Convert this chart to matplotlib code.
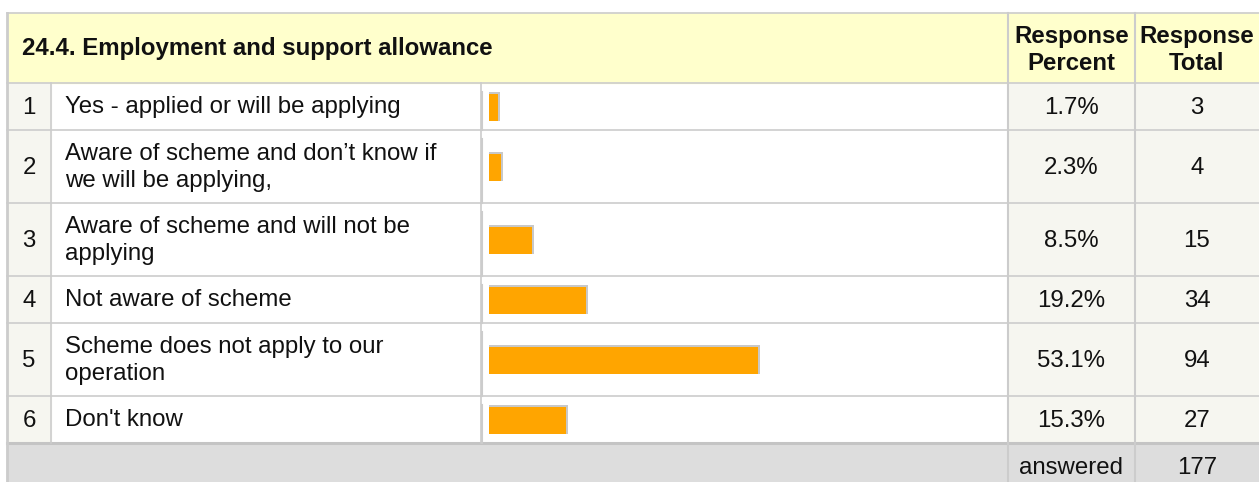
import matplotlib.pyplot as plt
from matplotlib.patches import Rectangle

plt.rcParams['font.family'] = ['Liberation Sans', 'DejaVu Sans']

# survey data
question = "24.4. Employment and support allowance"
row_numbers = [1, 2, 3, 4, 5, 6]
answers = [
    "Yes - applied or will be applying",
    "Aware of scheme and don\u2019t know if\nwe will be applying,",
    "Aware of scheme and will not be\napplying",
    "Not aware of scheme",
    "Scheme does not apply to our\noperation",
    "Don't know",
]
percents = [1.7, 2.3, 8.5, 19.2, 53.1, 15.3]
totals = [3, 4, 15, 34, 94, 27]
answered = 177

W, H = 1259, 482
fig = plt.figure(figsize=(W / 100, H / 100), dpi=100)
ax = fig.add_axes([0, 0, 1, 1])
ax.set_xlim(0, W)
ax.set_ylim(H, 0)
ax.axis('off')

grid = '#cccccc'
txt = '#111111'
fs = 17.3
ls = 1.27

# column edges
x0, x_num, x_text, x_pct, x_tot, x1 = 7, 51, 481, 1008, 1135, 1259
top, head_bot = 13, 83

# row boundaries from line counts
bounds = [head_bot]
for a in answers:
    bounds.append(bounds[-1] + (73 if '\n' in a else 47))
foot_top = bounds[-1]
centers = [(bounds[i] + bounds[i + 1]) / 2 for i in range(len(answers))]

# backgrounds
ax.add_patch(Rectangle((x0, top), x1 - x0, head_bot - top, color='#ffffcc', zorder=0))
ax.add_patch(Rectangle((x0, head_bot), x_num - x0, foot_top - head_bot, color='#f6f6f0', zorder=0))
ax.add_patch(Rectangle((x_pct, head_bot), x1 - x_pct, foot_top - head_bot, color='#f6f6f0', zorder=0))
ax.add_patch(Rectangle((x0, foot_top), x1 - x0, H - foot_top, color='#dddddd', zorder=0))

# grid lines
ax.plot([x0, x1], [top, top], color=grid, lw=1.2)
for b in bounds[:-1]:
    ax.plot([x0, x1], [b, b], color=grid, lw=1.2)
ax.plot([x0, x1], [foot_top, foot_top], color='#c4c4c4', lw=2.2)
ax.plot([x0, x0], [top, H], color=grid, lw=2)
for xv in (x_pct, x_tot):
    ax.plot([xv, xv], [top, H], color=grid, lw=1.5)
for xv in (x_num, x_text):
    ax.plot([xv, xv], [head_bot, foot_top], color=grid, lw=1.2)
for i in range(len(answers)):
    ax.plot([x_text + 1, x_text + 1], [bounds[i] + 9, bounds[i + 1]], color=grid, lw=1.5)

# header
ax.text(22, (top + head_bot) / 2 + 1, question, fontsize=fs, fontweight='bold',
        color=txt, va='center', ha='left')
ax.text((x_pct + x_tot) / 2, (top + head_bot) / 2 + 2, "Response\nPercent", fontsize=fs,
        fontweight='bold', color=txt, va='center', ha='center', linespacing=ls)
ax.text((x_tot + x1) / 2, (top + head_bot) / 2 + 2, "Response\nTotal", fontsize=fs,
        fontweight='bold', color=txt, va='center', ha='center', linespacing=ls)

# body rows
for n, a, p, t, c in zip(row_numbers, answers, percents, totals, centers):
    ax.text((x0 + x_num) / 2, c + 1.5, str(n), fontsize=fs, color=txt, va='center', ha='center')
    ax.text(65, c + 1, a, fontsize=fs, color=txt, va='center', ha='left', linespacing=ls)
    ax.text((x_pct + x_tot) / 2, c + 1.5, f"{p}%", fontsize=fs, color=txt, va='center', ha='center')
    ax.text((x_tot + x1) / 2, c + 1.5, str(t), fontsize=fs, color=txt, va='center', ha='center')

# footer
ax.text((x_pct + x_tot) / 2, foot_top + 25, "answered", fontsize=fs, color=txt,
        va='center', ha='center')
ax.text((x_tot + x1) / 2, foot_top + 25, str(answered), fontsize=fs, color=txt,
        va='center', ha='center')

# bars in their own axes, 0-100 %
bar_left, bar_span = 489, 506
bx = fig.add_axes([bar_left / W, 0, bar_span / W, 1])
bx.set_xlim(0, 100)
bx.set_ylim(H, 0)
bx.axis('off')
px = 100 / bar_span
bx.barh(centers, [p + 2 * px for p in percents], height=29, color='#c8c8c8')
bx.barh([c + 1 for c in centers], percents, height=27, color='#ffa500')

fig.savefig('out.png', dpi=100)
